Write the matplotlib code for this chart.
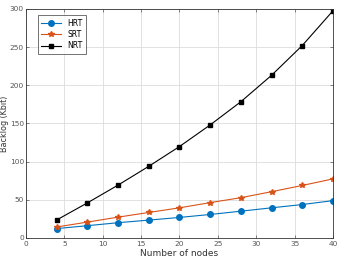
import numpy as np
import matplotlib.pyplot as plt

nodes = [4, 8, 12, 16, 20, 24, 28, 32, 36, 40]
hrt = [12.2, 16.0, 19.9, 23.3, 26.8, 30.7, 35.0, 39.4, 43.7, 48.8]
srt = [14.3, 20.7, 27.2, 33.3, 39.4, 46.2, 52.7, 60.5, 68.7, 77.3]
nrt = [23.5, 45.9, 69.2, 93.8, 119.7, 148.0, 178.4, 213.0, 252.0, 297.5]

fig = plt.figure(figsize=(3.38, 2.62), dpi=100)
ax = fig.add_axes([0.077, 0.092, 0.908, 0.874])

ax.plot(nodes, hrt, '-o', color='#0072BD', lw=0.8, ms=4, label='HRT')
ax.plot(nodes, srt, '-*', color='#D95319', lw=0.8, ms=4, label='SRT')
ax.plot(nodes, nrt, '-s', color='black', lw=0.8, ms=3.5, label='NRT')

ax.set_xlim(0, 40)
ax.set_ylim(0, 300)
ax.set_xticks(np.arange(0, 41, 5))
ax.set_yticks(np.arange(0, 301, 50))
ax.grid(True, color='#dcdcdc', lw=0.6)
ax.set_axisbelow(True)
ax.tick_params(direction='in', labelsize=5.3, colors='#555555', length=2, width=0.5,
               top=True, right=True, pad=2)
ax.tick_params(axis='y', pad=1.5)
for s in ax.spines.values():
    s.set_linewidth(0.6)
    s.set_color('#333333')
ax.set_xlabel('Number of nodes', fontsize=6.5, color='#333333', labelpad=2)
ax.set_ylabel('Backlog (Kbit)', fontsize=5.8, color='#333333')
ax.yaxis.set_label_coords(-0.056, 0.5)

leg = ax.legend(loc='upper left', fontsize=5.5, fancybox=False, edgecolor='#333333',
                handlelength=2.6, borderpad=0.5, labelspacing=0.3,
                bbox_to_anchor=(0.025, 0.99))
leg.get_frame().set_linewidth(0.6)

fig.savefig('out.png', dpi=100)
